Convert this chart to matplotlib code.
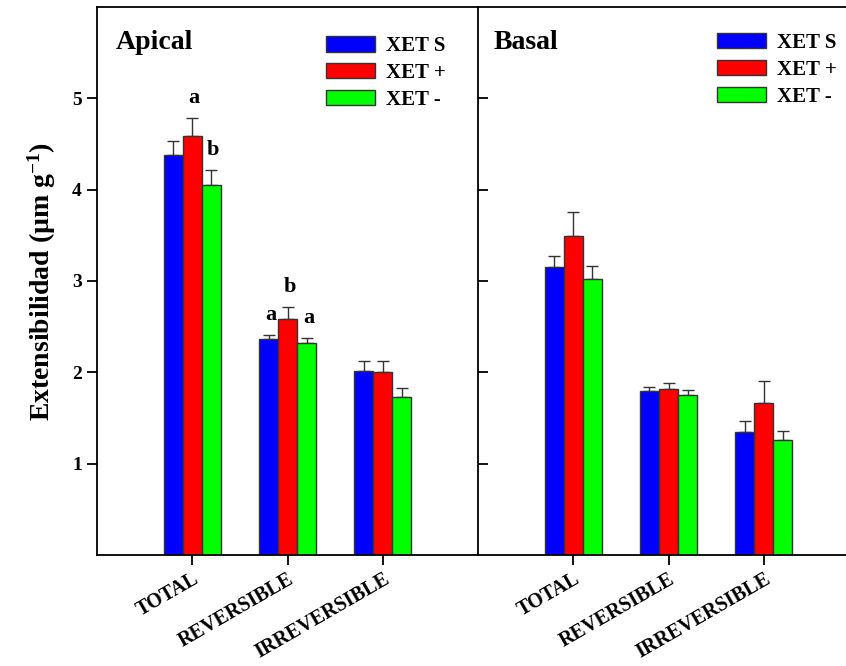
import matplotlib
matplotlib.use("Agg")
import matplotlib.pyplot as plt
import numpy as np

# ── Data ─────────────────────────────────────────────────
categories = ["TOTAL", "REVERSIBLE", "IRREVERSIBLE"]
series = ["XET S", "XET +", "XET -"]
colors = ["#0000FF", "#FF0000", "#00FF00"]

apical_mean = {
    "XET S": [4.38, 2.36, 2.01],
    "XET +": [4.59, 2.58, 2.00],
    "XET -": [4.05, 2.32, 1.73],
}
apical_err = {
    "XET S": [0.15, 0.05, 0.11],
    "XET +": [0.19, 0.13, 0.12],
    "XET -": [0.16, 0.06, 0.10],
}
basal_mean = {
    "XET S": [3.15, 1.79, 1.35],
    "XET +": [3.49, 1.82, 1.66],
    "XET -": [3.02, 1.75, 1.26],
}
basal_err = {
    "XET S": [0.12, 0.05, 0.12],
    "XET +": [0.27, 0.06, 0.24],
    "XET -": [0.14, 0.06, 0.10],
}

# significance letters: (category index, series index, letter)
apical_letters = [(0, 1, "a"), (0, 2, "b"), (1, 0, "a"), (1, 1, "b"), (1, 2, "a")]

# ── Style ────────────────────────────────────────────────
plt.rcParams["font.family"] = ["Liberation Serif", "DejaVu Serif"]
plt.rcParams["font.weight"] = "bold"
plt.rcParams["mathtext.fontset"] = "custom"
plt.rcParams["mathtext.rm"] = "Liberation Serif:bold"
plt.rcParams["mathtext.bf"] = "Liberation Serif:bold"
plt.rcParams["mathtext.default"] = "bf"

fig = plt.figure(figsize=(8.46, 6.66), dpi=100)
ax_l = fig.add_axes([0.1147, 0.1667, 0.4504, 0.8228])
ax_r = fig.add_axes([0.5650, 0.1667, 0.4504, 0.8228])

x = np.arange(1, len(categories) + 1)
width = 0.2


def draw_panel(ax, means, errs, title, title_x, leg_x, leg_y, letters=None):
    for i, s in enumerate(series):
        pos = x + (i - 1) * width
        ax.bar(pos, means[s], width, color=colors[i], edgecolor="#333333",
               linewidth=1.0, label=s, zorder=2)
        ax.errorbar(pos, means[s], yerr=[np.zeros(len(errs[s])), errs[s]],
                    fmt="none", ecolor="#333333", elinewidth=1.0, capsize=4.5,
                    capthick=1.0, zorder=1)
    if letters:
        for ci, si, txt in letters:
            s = series[si]
            ax.text(x[ci] + (si - 1) * width + 0.02,
                    means[s][ci] + errs[s][ci] + 0.22,
                    txt, ha="center", va="center", fontsize=16,
                    fontweight="bold")
    ax.set_xlim(0, 4)
    ax.set_ylim(0, 6)
    ax.set_xticks(x)
    ax.set_xticklabels(categories, rotation=30, ha="right", va="top",
                       rotation_mode="anchor", fontsize=14.5, fontweight="bold")
    ax.set_yticks([1, 2, 3, 4, 5])
    ax.tick_params(axis="x", direction="out", length=7, width=1.3, pad=3)
    for sp in ax.spines.values():
        sp.set_linewidth(1.3)
    ax.text(title_x, 0.935, title, transform=ax.transAxes, ha="left",
            va="center", fontsize=20, fontweight="bold")
    ax.legend(loc="upper left", bbox_to_anchor=(leg_x, leg_y), frameon=False,
              handlelength=2.35, handleheight=0.77, handletextpad=0.55,
              labelspacing=0.33, borderpad=0, borderaxespad=0,
              prop={"weight": "bold", "size": 15})


draw_panel(ax_l, apical_mean, apical_err, "Apical", 0.05, 0.601, 0.947,
           apical_letters)
draw_panel(ax_r, basal_mean, basal_err, "Basal", 0.04, 0.627, 0.953)

ax_l.tick_params(axis="y", direction="out", length=7, width=1.3,
                 labelsize=14, pad=4)
ax_l.spines["right"].set_visible(False)
ax_r.tick_params(axis="y", direction="in", length=7, width=1.3,
                 labelleft=False)
ax_r.spines["right"].set_visible(False)

ax_l.set_ylabel(r"Extensibilidad (µm g$^{-1}$)", fontsize=20,
                fontweight="bold", labelpad=10)

fig.savefig("out.png", dpi=100)
